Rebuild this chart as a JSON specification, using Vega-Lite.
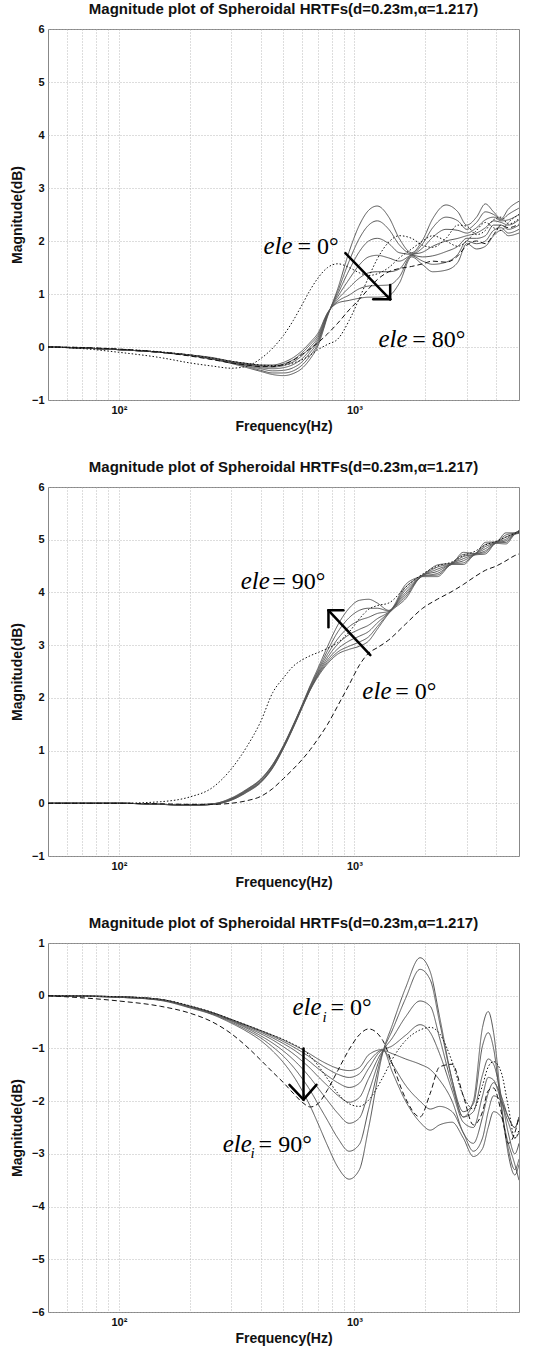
{
"$schema": "https://vega.github.io/schema/vega-lite/v6.json",
"background": "white",
"padding": {"left": 9, "top": 1, "right": 20, "bottom": 5},
"spacing": 25,
"config": {
  "view": {"stroke": "#888", "strokeWidth": 1},
  "font": "Liberation Sans",
  "title": {"font": "Liberation Sans", "fontSize": 15, "fontWeight": "bold", "color": "#111", "offset": 6},
  "axis": {"grid": true, "gridColor": "#aaa", "gridDash": [1, 2], "gridWidth": 0.8, "ticks": false, "domain": false,
    "labelFont": "Liberation Sans", "labelFontSize": 11, "labelFontWeight": "bold", "labelColor": "#111", "labelPadding": 4,
    "titleFont": "Liberation Sans", "titleFontSize": 14, "titleFontWeight": "bold", "titleColor": "#111"}
},
"datasets": {
"p1": [
{"c":"s0","f":50,"v":0},{"c":"s0","f":70,"v":-0.02},{"c":"s0","f":100,"v":-0.05},{"c":"s0","f":150,"v":-0.1},{"c":"s0","f":200,"v":-0.16},{"c":"s0","f":250,"v":-0.23},{"c":"s0","f":300,"v":-0.31},{"c":"s0","f":350,"v":-0.39},{"c":"s0","f":400,"v":-0.46},{"c":"s0","f":450,"v":-0.52},{"c":"s0","f":500,"v":-0.54},{"c":"s0","f":550,"v":-0.5},{"c":"s0","f":600,"v":-0.4},{"c":"s0","f":650,"v":-0.22},{"c":"s0","f":700,"v":0.02},{"c":"s0","f":770,"v":0.58},{"c":"s0","f":850,"v":1.1},{"c":"s0","f":950,"v":1.8},{"c":"s0","f":1050,"v":2.3},{"c":"s0","f":1150,"v":2.58},{"c":"s0","f":1250,"v":2.66},{"c":"s0","f":1400,"v":2.45},{"c":"s0","f":1550,"v":2.05},{"c":"s0","f":1750,"v":1.78},{"c":"s0","f":1950,"v":2.02},{"c":"s0","f":2150,"v":2.42},{"c":"s0","f":2450,"v":2.68},{"c":"s0","f":2750,"v":2.55},{"c":"s0","f":3000,"v":2.3},{"c":"s0","f":3300,"v":2.45},{"c":"s0","f":3600,"v":2.7},{"c":"s0","f":3900,"v":2.55},{"c":"s0","f":4200,"v":2.42},{"c":"s0","f":4500,"v":2.6},{"c":"s0","f":5000,"v":2.75},
{"c":"s1","f":50,"v":0},{"c":"s1","f":70,"v":-0.02},{"c":"s1","f":100,"v":-0.05},{"c":"s1","f":150,"v":-0.1},{"c":"s1","f":200,"v":-0.16},{"c":"s1","f":250,"v":-0.23},{"c":"s1","f":300,"v":-0.3},{"c":"s1","f":350,"v":-0.37},{"c":"s1","f":400,"v":-0.44},{"c":"s1","f":450,"v":-0.49},{"c":"s1","f":500,"v":-0.49},{"c":"s1","f":550,"v":-0.45},{"c":"s1","f":600,"v":-0.34},{"c":"s1","f":650,"v":-0.16},{"c":"s1","f":700,"v":0.06},{"c":"s1","f":770,"v":0.6},{"c":"s1","f":850,"v":1.05},{"c":"s1","f":950,"v":1.62},{"c":"s1","f":1050,"v":2.05},{"c":"s1","f":1150,"v":2.3},{"c":"s1","f":1250,"v":2.38},{"c":"s1","f":1400,"v":2.22},{"c":"s1","f":1550,"v":1.93},{"c":"s1","f":1750,"v":1.76},{"c":"s1","f":1950,"v":1.95},{"c":"s1","f":2150,"v":2.25},{"c":"s1","f":2450,"v":2.45},{"c":"s1","f":2750,"v":2.38},{"c":"s1","f":3000,"v":2.22},{"c":"s1","f":3300,"v":2.35},{"c":"s1","f":3600,"v":2.55},{"c":"s1","f":3900,"v":2.5},{"c":"s1","f":4200,"v":2.4},{"c":"s1","f":4500,"v":2.5},{"c":"s1","f":5000,"v":2.62},
{"c":"s2","f":50,"v":0},{"c":"s2","f":70,"v":-0.02},{"c":"s2","f":100,"v":-0.05},{"c":"s2","f":150,"v":-0.1},{"c":"s2","f":200,"v":-0.16},{"c":"s2","f":250,"v":-0.22},{"c":"s2","f":300,"v":-0.3},{"c":"s2","f":350,"v":-0.36},{"c":"s2","f":400,"v":-0.41},{"c":"s2","f":450,"v":-0.45},{"c":"s2","f":500,"v":-0.44},{"c":"s2","f":550,"v":-0.39},{"c":"s2","f":600,"v":-0.28},{"c":"s2","f":650,"v":-0.1},{"c":"s2","f":700,"v":0.1},{"c":"s2","f":770,"v":0.61},{"c":"s2","f":850,"v":1},{"c":"s2","f":950,"v":1.45},{"c":"s2","f":1050,"v":1.8},{"c":"s2","f":1150,"v":2},{"c":"s2","f":1250,"v":2.05},{"c":"s2","f":1400,"v":1.95},{"c":"s2","f":1550,"v":1.78},{"c":"s2","f":1750,"v":1.75},{"c":"s2","f":1950,"v":1.87},{"c":"s2","f":2150,"v":2.07},{"c":"s2","f":2450,"v":2.22},{"c":"s2","f":2750,"v":2.2},{"c":"s2","f":3000,"v":2.15},{"c":"s2","f":3300,"v":2.25},{"c":"s2","f":3600,"v":2.4},{"c":"s2","f":3900,"v":2.45},{"c":"s2","f":4200,"v":2.38},{"c":"s2","f":4500,"v":2.4},{"c":"s2","f":5000,"v":2.5},
{"c":"s3","f":50,"v":0},{"c":"s3","f":70,"v":-0.02},{"c":"s3","f":100,"v":-0.05},{"c":"s3","f":150,"v":-0.1},{"c":"s3","f":200,"v":-0.16},{"c":"s3","f":250,"v":-0.22},{"c":"s3","f":300,"v":-0.29},{"c":"s3","f":350,"v":-0.34},{"c":"s3","f":400,"v":-0.39},{"c":"s3","f":450,"v":-0.41},{"c":"s3","f":500,"v":-0.39},{"c":"s3","f":550,"v":-0.33},{"c":"s3","f":600,"v":-0.22},{"c":"s3","f":650,"v":-0.05},{"c":"s3","f":700,"v":0.14},{"c":"s3","f":770,"v":0.62},{"c":"s3","f":850,"v":0.95},{"c":"s3","f":950,"v":1.28},{"c":"s3","f":1050,"v":1.55},{"c":"s3","f":1150,"v":1.7},{"c":"s3","f":1250,"v":1.73},{"c":"s3","f":1400,"v":1.68},{"c":"s3","f":1550,"v":1.62},{"c":"s3","f":1750,"v":1.74},{"c":"s3","f":1950,"v":1.79},{"c":"s3","f":2150,"v":1.9},{"c":"s3","f":2450,"v":2},{"c":"s3","f":2750,"v":2.05},{"c":"s3","f":3000,"v":2.1},{"c":"s3","f":3300,"v":2.15},{"c":"s3","f":3600,"v":2.25},{"c":"s3","f":3900,"v":2.38},{"c":"s3","f":4200,"v":2.35},{"c":"s3","f":4500,"v":2.3},{"c":"s3","f":5000,"v":2.4},
{"c":"s4","f":50,"v":0},{"c":"s4","f":70,"v":-0.02},{"c":"s4","f":100,"v":-0.05},{"c":"s4","f":150,"v":-0.1},{"c":"s4","f":200,"v":-0.15},{"c":"s4","f":250,"v":-0.21},{"c":"s4","f":300,"v":-0.28},{"c":"s4","f":350,"v":-0.33},{"c":"s4","f":400,"v":-0.37},{"c":"s4","f":450,"v":-0.38},{"c":"s4","f":500,"v":-0.35},{"c":"s4","f":550,"v":-0.28},{"c":"s4","f":600,"v":-0.16},{"c":"s4","f":650,"v":0},{"c":"s4","f":700,"v":0.18},{"c":"s4","f":770,"v":0.63},{"c":"s4","f":850,"v":0.9},{"c":"s4","f":950,"v":1.12},{"c":"s4","f":1050,"v":1.3},{"c":"s4","f":1150,"v":1.4},{"c":"s4","f":1250,"v":1.42},{"c":"s4","f":1400,"v":1.42},{"c":"s4","f":1550,"v":1.47},{"c":"s4","f":1750,"v":1.73},{"c":"s4","f":1950,"v":1.7},{"c":"s4","f":2150,"v":1.72},{"c":"s4","f":2450,"v":1.8},{"c":"s4","f":2750,"v":1.9},{"c":"s4","f":3000,"v":2.05},{"c":"s4","f":3300,"v":2.05},{"c":"s4","f":3600,"v":2.1},{"c":"s4","f":3900,"v":2.3},{"c":"s4","f":4200,"v":2.3},{"c":"s4","f":4500,"v":2.22},{"c":"s4","f":5000,"v":2.3},
{"c":"s5","f":50,"v":0},{"c":"s5","f":70,"v":-0.02},{"c":"s5","f":100,"v":-0.05},{"c":"s5","f":150,"v":-0.1},{"c":"s5","f":200,"v":-0.15},{"c":"s5","f":250,"v":-0.21},{"c":"s5","f":300,"v":-0.27},{"c":"s5","f":350,"v":-0.32},{"c":"s5","f":400,"v":-0.35},{"c":"s5","f":450,"v":-0.36},{"c":"s5","f":500,"v":-0.32},{"c":"s5","f":550,"v":-0.24},{"c":"s5","f":600,"v":-0.11},{"c":"s5","f":650,"v":0.05},{"c":"s5","f":700,"v":0.22},{"c":"s5","f":770,"v":0.64},{"c":"s5","f":850,"v":0.86},{"c":"s5","f":950,"v":0.98},{"c":"s5","f":1050,"v":1.1},{"c":"s5","f":1150,"v":1.15},{"c":"s5","f":1250,"v":1.16},{"c":"s5","f":1400,"v":1.17},{"c":"s5","f":1550,"v":1.32},{"c":"s5","f":1750,"v":1.72},{"c":"s5","f":1950,"v":1.62},{"c":"s5","f":2150,"v":1.56},{"c":"s5","f":2450,"v":1.6},{"c":"s5","f":2750,"v":1.75},{"c":"s5","f":3000,"v":2},{"c":"s5","f":3300,"v":1.95},{"c":"s5","f":3600,"v":2},{"c":"s5","f":3900,"v":2.2},{"c":"s5","f":4200,"v":2.25},{"c":"s5","f":4500,"v":2.15},{"c":"s5","f":5000,"v":2.22},
{"c":"s6","f":50,"v":0},{"c":"s6","f":70,"v":-0.02},{"c":"s6","f":100,"v":-0.05},{"c":"s6","f":150,"v":-0.1},{"c":"s6","f":200,"v":-0.15},{"c":"s6","f":250,"v":-0.2},{"c":"s6","f":300,"v":-0.27},{"c":"s6","f":350,"v":-0.31},{"c":"s6","f":400,"v":-0.34},{"c":"s6","f":450,"v":-0.34},{"c":"s6","f":500,"v":-0.29},{"c":"s6","f":550,"v":-0.2},{"c":"s6","f":600,"v":-0.07},{"c":"s6","f":650,"v":0.09},{"c":"s6","f":700,"v":0.26},{"c":"s6","f":770,"v":0.65},{"c":"s6","f":850,"v":0.83},{"c":"s6","f":950,"v":0.88},{"c":"s6","f":1050,"v":0.92},{"c":"s6","f":1150,"v":0.94},{"c":"s6","f":1250,"v":0.94},{"c":"s6","f":1400,"v":0.97},{"c":"s6","f":1550,"v":1.2},{"c":"s6","f":1750,"v":1.7},{"c":"s6","f":1950,"v":1.55},{"c":"s6","f":2150,"v":1.42},{"c":"s6","f":2450,"v":1.45},{"c":"s6","f":2750,"v":1.6},{"c":"s6","f":3000,"v":1.95},{"c":"s6","f":3300,"v":1.85},{"c":"s6","f":3600,"v":1.9},{"c":"s6","f":3900,"v":2.1},{"c":"s6","f":4200,"v":2.2},{"c":"s6","f":4500,"v":2.1},{"c":"s6","f":5000,"v":2.15},
{"c":"d1","f":50,"v":0},{"c":"d1","f":70,"v":-0.03},{"c":"d1","f":100,"v":-0.1},{"c":"d1","f":150,"v":-0.2},{"c":"d1","f":200,"v":-0.3},{"c":"d1","f":250,"v":-0.36},{"c":"d1","f":300,"v":-0.4},{"c":"d1","f":350,"v":-0.36},{"c":"d1","f":400,"v":-0.22},{"c":"d1","f":450,"v":-0.02},{"c":"d1","f":500,"v":0.22},{"c":"d1","f":550,"v":0.5},{"c":"d1","f":600,"v":0.8},{"c":"d1","f":650,"v":1.08},{"c":"d1","f":700,"v":1.3},{"c":"d1","f":770,"v":1.5},{"c":"d1","f":850,"v":1.57},{"c":"d1","f":950,"v":1.5},{"c":"d1","f":1050,"v":1.4},{"c":"d1","f":1150,"v":1.35},{"c":"d1","f":1250,"v":1.38},{"c":"d1","f":1400,"v":1.5},{"c":"d1","f":1550,"v":1.68},{"c":"d1","f":1750,"v":1.85},{"c":"d1","f":1950,"v":2},{"c":"d1","f":2150,"v":2.1},{"c":"d1","f":2450,"v":2},{"c":"d1","f":2750,"v":1.9},{"c":"d1","f":3000,"v":2},{"c":"d1","f":3300,"v":2.2},{"c":"d1","f":3600,"v":2.35},{"c":"d1","f":3900,"v":2.25},{"c":"d1","f":4200,"v":2.2},{"c":"d1","f":4500,"v":2.35},{"c":"d1","f":5000,"v":2.5},
{"c":"d2","f":50,"v":0},{"c":"d2","f":70,"v":-0.01},{"c":"d2","f":100,"v":-0.04},{"c":"d2","f":150,"v":-0.09},{"c":"d2","f":200,"v":-0.15},{"c":"d2","f":250,"v":-0.21},{"c":"d2","f":300,"v":-0.27},{"c":"d2","f":350,"v":-0.31},{"c":"d2","f":400,"v":-0.34},{"c":"d2","f":450,"v":-0.35},{"c":"d2","f":500,"v":-0.34},{"c":"d2","f":550,"v":-0.3},{"c":"d2","f":600,"v":-0.24},{"c":"d2","f":650,"v":-0.15},{"c":"d2","f":700,"v":-0.05},{"c":"d2","f":770,"v":0.05},{"c":"d2","f":850,"v":0.15},{"c":"d2","f":950,"v":0.5},{"c":"d2","f":1050,"v":0.92},{"c":"d2","f":1150,"v":1.32},{"c":"d2","f":1250,"v":1.66},{"c":"d2","f":1400,"v":1.98},{"c":"d2","f":1550,"v":2.1},{"c":"d2","f":1750,"v":2.05},{"c":"d2","f":1950,"v":1.92},{"c":"d2","f":2150,"v":1.88},{"c":"d2","f":2450,"v":2.05},{"c":"d2","f":2750,"v":2.3},{"c":"d2","f":3000,"v":2.28},{"c":"d2","f":3300,"v":2.12},{"c":"d2","f":3600,"v":2.2},{"c":"d2","f":3900,"v":2.4},{"c":"d2","f":4200,"v":2.45},{"c":"d2","f":4500,"v":2.32},{"c":"d2","f":5000,"v":2.42},
{"c":"m","f":50,"v":0},{"c":"m","f":70,"v":-0.01},{"c":"m","f":100,"v":-0.04},{"c":"m","f":150,"v":-0.1},{"c":"m","f":200,"v":-0.17},{"c":"m","f":250,"v":-0.24},{"c":"m","f":300,"v":-0.3},{"c":"m","f":350,"v":-0.34},{"c":"m","f":400,"v":-0.37},{"c":"m","f":450,"v":-0.37},{"c":"m","f":500,"v":-0.33},{"c":"m","f":550,"v":-0.25},{"c":"m","f":600,"v":-0.14},{"c":"m","f":650,"v":-0.03},{"c":"m","f":700,"v":0.08},{"c":"m","f":770,"v":0.25},{"c":"m","f":850,"v":0.45},{"c":"m","f":950,"v":0.7},{"c":"m","f":1050,"v":0.9},{"c":"m","f":1150,"v":1.1},{"c":"m","f":1250,"v":1.27},{"c":"m","f":1400,"v":1.42},{"c":"m","f":1550,"v":1.48},{"c":"m","f":1750,"v":1.52},{"c":"m","f":1950,"v":1.57},{"c":"m","f":2150,"v":1.62},{"c":"m","f":2450,"v":1.6},{"c":"m","f":2750,"v":1.72},{"c":"m","f":3000,"v":1.92},{"c":"m","f":3300,"v":2},{"c":"m","f":3600,"v":1.95},{"c":"m","f":3900,"v":2.12},{"c":"m","f":4200,"v":2.3},{"c":"m","f":4500,"v":2.25},{"c":"m","f":5000,"v":2.32}
],
"p2": [
{"c":"s0","f":50,"v":0},{"c":"s0","f":100,"v":0},{"c":"s0","f":150,"v":-0.02},{"c":"s0","f":200,"v":-0.03},{"c":"s0","f":250,"v":-0.01},{"c":"s0","f":300,"v":0.1},{"c":"s0","f":350,"v":0.27},{"c":"s0","f":400,"v":0.46},{"c":"s0","f":450,"v":0.74},{"c":"s0","f":500,"v":1.1},{"c":"s0","f":550,"v":1.49},{"c":"s0","f":600,"v":1.87},{"c":"s0","f":650,"v":2.24},{"c":"s0","f":700,"v":2.56},{"c":"s0","f":770,"v":2.98},{"c":"s0","f":850,"v":3.38},{"c":"s0","f":950,"v":3.7},{"c":"s0","f":1050,"v":3.85},{"c":"s0","f":1150,"v":3.87},{"c":"s0","f":1250,"v":3.8},{"c":"s0","f":1400,"v":3.66},{"c":"s0","f":1650,"v":4.15},{"c":"s0","f":1950,"v":4.33},{"c":"s0","f":2250,"v":4.52},{"c":"s0","f":2600,"v":4.56},{"c":"s0","f":2900,"v":4.76},{"c":"s0","f":3250,"v":4.74},{"c":"s0","f":3600,"v":4.95},{"c":"s0","f":4000,"v":4.96},{"c":"s0","f":4400,"v":5.13},{"c":"s0","f":4800,"v":5.13},{"c":"s0","f":5000,"v":5.18},
{"c":"s1","f":50,"v":0},{"c":"s1","f":100,"v":0},{"c":"s1","f":150,"v":-0.02},{"c":"s1","f":200,"v":-0.03},{"c":"s1","f":250,"v":-0.01},{"c":"s1","f":300,"v":0.09},{"c":"s1","f":350,"v":0.26},{"c":"s1","f":400,"v":0.45},{"c":"s1","f":450,"v":0.73},{"c":"s1","f":500,"v":1.09},{"c":"s1","f":550,"v":1.48},{"c":"s1","f":600,"v":1.86},{"c":"s1","f":650,"v":2.22},{"c":"s1","f":700,"v":2.52},{"c":"s1","f":770,"v":2.9},{"c":"s1","f":850,"v":3.25},{"c":"s1","f":950,"v":3.52},{"c":"s1","f":1050,"v":3.66},{"c":"s1","f":1150,"v":3.7},{"c":"s1","f":1250,"v":3.7},{"c":"s1","f":1400,"v":3.65},{"c":"s1","f":1650,"v":4.1},{"c":"s1","f":1950,"v":4.33},{"c":"s1","f":2250,"v":4.48},{"c":"s1","f":2600,"v":4.56},{"c":"s1","f":2900,"v":4.72},{"c":"s1","f":3250,"v":4.74},{"c":"s1","f":3600,"v":4.91},{"c":"s1","f":4000,"v":4.96},{"c":"s1","f":4400,"v":5.09},{"c":"s1","f":4800,"v":5.13},{"c":"s1","f":5000,"v":5.17},
{"c":"s2","f":50,"v":0},{"c":"s2","f":100,"v":0},{"c":"s2","f":150,"v":-0.02},{"c":"s2","f":200,"v":-0.03},{"c":"s2","f":250,"v":-0.02},{"c":"s2","f":300,"v":0.08},{"c":"s2","f":350,"v":0.25},{"c":"s2","f":400,"v":0.44},{"c":"s2","f":450,"v":0.72},{"c":"s2","f":500,"v":1.08},{"c":"s2","f":550,"v":1.47},{"c":"s2","f":600,"v":1.85},{"c":"s2","f":650,"v":2.2},{"c":"s2","f":700,"v":2.49},{"c":"s2","f":770,"v":2.83},{"c":"s2","f":850,"v":3.12},{"c":"s2","f":950,"v":3.35},{"c":"s2","f":1050,"v":3.47},{"c":"s2","f":1150,"v":3.53},{"c":"s2","f":1250,"v":3.6},{"c":"s2","f":1400,"v":3.64},{"c":"s2","f":1650,"v":4.05},{"c":"s2","f":1950,"v":4.32},{"c":"s2","f":2250,"v":4.44},{"c":"s2","f":2600,"v":4.55},{"c":"s2","f":2900,"v":4.68},{"c":"s2","f":3250,"v":4.73},{"c":"s2","f":3600,"v":4.87},{"c":"s2","f":4000,"v":4.95},{"c":"s2","f":4400,"v":5.05},{"c":"s2","f":4800,"v":5.12},{"c":"s2","f":5000,"v":5.16},
{"c":"s3","f":50,"v":0},{"c":"s3","f":100,"v":0},{"c":"s3","f":150,"v":-0.02},{"c":"s3","f":200,"v":-0.03},{"c":"s3","f":250,"v":-0.02},{"c":"s3","f":300,"v":0.08},{"c":"s3","f":350,"v":0.24},{"c":"s3","f":400,"v":0.42},{"c":"s3","f":450,"v":0.7},{"c":"s3","f":500,"v":1.07},{"c":"s3","f":550,"v":1.46},{"c":"s3","f":600,"v":1.84},{"c":"s3","f":650,"v":2.18},{"c":"s3","f":700,"v":2.46},{"c":"s3","f":770,"v":2.77},{"c":"s3","f":850,"v":3.02},{"c":"s3","f":950,"v":3.2},{"c":"s3","f":1050,"v":3.3},{"c":"s3","f":1150,"v":3.38},{"c":"s3","f":1250,"v":3.5},{"c":"s3","f":1400,"v":3.63},{"c":"s3","f":1650,"v":4},{"c":"s3","f":1950,"v":4.32},{"c":"s3","f":2250,"v":4.4},{"c":"s3","f":2600,"v":4.55},{"c":"s3","f":2900,"v":4.64},{"c":"s3","f":3250,"v":4.73},{"c":"s3","f":3600,"v":4.83},{"c":"s3","f":4000,"v":4.95},{"c":"s3","f":4400,"v":5.01},{"c":"s3","f":4800,"v":5.12},{"c":"s3","f":5000,"v":5.15},
{"c":"s4","f":50,"v":0},{"c":"s4","f":100,"v":0},{"c":"s4","f":150,"v":-0.02},{"c":"s4","f":200,"v":-0.04},{"c":"s4","f":250,"v":-0.02},{"c":"s4","f":300,"v":0.07},{"c":"s4","f":350,"v":0.23},{"c":"s4","f":400,"v":0.41},{"c":"s4","f":450,"v":0.69},{"c":"s4","f":500,"v":1.06},{"c":"s4","f":550,"v":1.45},{"c":"s4","f":600,"v":1.83},{"c":"s4","f":650,"v":2.17},{"c":"s4","f":700,"v":2.44},{"c":"s4","f":770,"v":2.72},{"c":"s4","f":850,"v":2.93},{"c":"s4","f":950,"v":3.08},{"c":"s4","f":1050,"v":3.17},{"c":"s4","f":1150,"v":3.26},{"c":"s4","f":1250,"v":3.42},{"c":"s4","f":1400,"v":3.62},{"c":"s4","f":1650,"v":3.96},{"c":"s4","f":1950,"v":4.31},{"c":"s4","f":2250,"v":4.36},{"c":"s4","f":2600,"v":4.54},{"c":"s4","f":2900,"v":4.6},{"c":"s4","f":3250,"v":4.72},{"c":"s4","f":3600,"v":4.79},{"c":"s4","f":4000,"v":4.94},{"c":"s4","f":4400,"v":4.98},{"c":"s4","f":4800,"v":5.11},{"c":"s4","f":5000,"v":5.14},
{"c":"s5","f":50,"v":0},{"c":"s5","f":100,"v":0},{"c":"s5","f":150,"v":-0.02},{"c":"s5","f":200,"v":-0.04},{"c":"s5","f":250,"v":-0.02},{"c":"s5","f":300,"v":0.06},{"c":"s5","f":350,"v":0.22},{"c":"s5","f":400,"v":0.4},{"c":"s5","f":450,"v":0.68},{"c":"s5","f":500,"v":1.05},{"c":"s5","f":550,"v":1.44},{"c":"s5","f":600,"v":1.82},{"c":"s5","f":650,"v":2.16},{"c":"s5","f":700,"v":2.42},{"c":"s5","f":770,"v":2.68},{"c":"s5","f":850,"v":2.87},{"c":"s5","f":950,"v":2.98},{"c":"s5","f":1050,"v":3.06},{"c":"s5","f":1150,"v":3.16},{"c":"s5","f":1250,"v":3.35},{"c":"s5","f":1400,"v":3.61},{"c":"s5","f":1650,"v":3.92},{"c":"s5","f":1950,"v":4.31},{"c":"s5","f":2250,"v":4.33},{"c":"s5","f":2600,"v":4.54},{"c":"s5","f":2900,"v":4.56},{"c":"s5","f":3250,"v":4.72},{"c":"s5","f":3600,"v":4.76},{"c":"s5","f":4000,"v":4.94},{"c":"s5","f":4400,"v":4.95},{"c":"s5","f":4800,"v":5.11},{"c":"s5","f":5000,"v":5.13},
{"c":"s6","f":50,"v":0},{"c":"s6","f":100,"v":0},{"c":"s6","f":150,"v":-0.02},{"c":"s6","f":200,"v":-0.04},{"c":"s6","f":250,"v":-0.02},{"c":"s6","f":300,"v":0.06},{"c":"s6","f":350,"v":0.21},{"c":"s6","f":400,"v":0.39},{"c":"s6","f":450,"v":0.67},{"c":"s6","f":500,"v":1.04},{"c":"s6","f":550,"v":1.43},{"c":"s6","f":600,"v":1.81},{"c":"s6","f":650,"v":2.15},{"c":"s6","f":700,"v":2.4},{"c":"s6","f":770,"v":2.65},{"c":"s6","f":850,"v":2.83},{"c":"s6","f":950,"v":2.92},{"c":"s6","f":1050,"v":2.98},{"c":"s6","f":1150,"v":3.08},{"c":"s6","f":1250,"v":3.3},{"c":"s6","f":1400,"v":3.6},{"c":"s6","f":1650,"v":3.88},{"c":"s6","f":1950,"v":4.3},{"c":"s6","f":2250,"v":4.3},{"c":"s6","f":2600,"v":4.53},{"c":"s6","f":2900,"v":4.53},{"c":"s6","f":3250,"v":4.71},{"c":"s6","f":3600,"v":4.73},{"c":"s6","f":4000,"v":4.93},{"c":"s6","f":4400,"v":4.92},{"c":"s6","f":4800,"v":5.1},{"c":"s6","f":5000,"v":5.12},
{"c":"d1","f":50,"v":0},{"c":"d1","f":100,"v":0},{"c":"d1","f":150,"v":0.03},{"c":"d1","f":200,"v":0.12},{"c":"d1","f":250,"v":0.3},{"c":"d1","f":300,"v":0.65},{"c":"d1","f":350,"v":1.08},{"c":"d1","f":400,"v":1.55},{"c":"d1","f":450,"v":2.1},{"c":"d1","f":500,"v":2.38},{"c":"d1","f":550,"v":2.6},{"c":"d1","f":600,"v":2.72},{"c":"d1","f":650,"v":2.8},{"c":"d1","f":700,"v":2.86},{"c":"d1","f":770,"v":2.94},{"c":"d1","f":850,"v":3.05},{"c":"d1","f":950,"v":3.25},{"c":"d1","f":1050,"v":3.5},{"c":"d1","f":1150,"v":3.68},{"c":"d1","f":1250,"v":3.75},{"c":"d1","f":1400,"v":3.8},{"c":"d1","f":1650,"v":4.1},{"c":"d1","f":1950,"v":4.35},{"c":"d1","f":2250,"v":4.5},{"c":"d1","f":2600,"v":4.58},{"c":"d1","f":2900,"v":4.7},{"c":"d1","f":3250,"v":4.78},{"c":"d1","f":3600,"v":4.9},{"c":"d1","f":4000,"v":4.97},{"c":"d1","f":4400,"v":5.05},{"c":"d1","f":4800,"v":5.12},{"c":"d1","f":5000,"v":5.15},
{"c":"m","f":50,"v":0},{"c":"m","f":100,"v":0},{"c":"m","f":150,"v":-0.01},{"c":"m","f":200,"v":-0.02},{"c":"m","f":250,"v":-0.02},{"c":"m","f":300,"v":0},{"c":"m","f":350,"v":0.05},{"c":"m","f":400,"v":0.13},{"c":"m","f":450,"v":0.28},{"c":"m","f":500,"v":0.47},{"c":"m","f":550,"v":0.65},{"c":"m","f":600,"v":0.83},{"c":"m","f":650,"v":1.02},{"c":"m","f":700,"v":1.22},{"c":"m","f":770,"v":1.5},{"c":"m","f":850,"v":1.85},{"c":"m","f":950,"v":2.25},{"c":"m","f":1050,"v":2.62},{"c":"m","f":1150,"v":2.85},{"c":"m","f":1250,"v":2.95},{"c":"m","f":1400,"v":3.1},{"c":"m","f":1650,"v":3.4},{"c":"m","f":1950,"v":3.7},{"c":"m","f":2250,"v":3.87},{"c":"m","f":2600,"v":4.02},{"c":"m","f":2900,"v":4.15},{"c":"m","f":3250,"v":4.3},{"c":"m","f":3600,"v":4.42},{"c":"m","f":4000,"v":4.5},{"c":"m","f":4400,"v":4.6},{"c":"m","f":4800,"v":4.7},{"c":"m","f":5000,"v":4.73}
],
"p3": [
{"c":"s0","f":50,"v":0},{"c":"s0","f":100,"v":-0.02},{"c":"s0","f":150,"v":-0.07},{"c":"s0","f":200,"v":-0.2},{"c":"s0","f":250,"v":-0.32},{"c":"s0","f":300,"v":-0.45},{"c":"s0","f":350,"v":-0.56},{"c":"s0","f":400,"v":-0.66},{"c":"s0","f":450,"v":-0.75},{"c":"s0","f":500,"v":-0.84},{"c":"s0","f":550,"v":-0.93},{"c":"s0","f":600,"v":-1.02},{"c":"s0","f":650,"v":-1.11},{"c":"s0","f":700,"v":-1.2},{"c":"s0","f":770,"v":-1.3},{"c":"s0","f":850,"v":-1.38},{"c":"s0","f":950,"v":-1.42},{"c":"s0","f":1050,"v":-1.36},{"c":"s0","f":1150,"v":-1.12},{"c":"s0","f":1320,"v":-1.02},{"c":"s0","f":1450,"v":-1.45},{"c":"s0","f":1650,"v":-2},{"c":"s0","f":1900,"v":-2.4},{"c":"s0","f":2100,"v":-2.55},{"c":"s0","f":2300,"v":-2.45},{"c":"s0","f":2600,"v":-2.4},{"c":"s0","f":2900,"v":-2.7},{"c":"s0","f":3200,"v":-3.05},{"c":"s0","f":3500,"v":-2.9},{"c":"s0","f":3700,"v":-2.5},{"c":"s0","f":3900,"v":-2.2},{"c":"s0","f":4200,"v":-2.3},{"c":"s0","f":4500,"v":-2.8},{"c":"s0","f":4800,"v":-3.2},{"c":"s0","f":5000,"v":-3.5},
{"c":"s1","f":50,"v":0},{"c":"s1","f":100,"v":-0.02},{"c":"s1","f":150,"v":-0.07},{"c":"s1","f":200,"v":-0.2},{"c":"s1","f":250,"v":-0.32},{"c":"s1","f":300,"v":-0.45},{"c":"s1","f":350,"v":-0.57},{"c":"s1","f":400,"v":-0.67},{"c":"s1","f":450,"v":-0.77},{"c":"s1","f":500,"v":-0.87},{"c":"s1","f":550,"v":-0.97},{"c":"s1","f":600,"v":-1.07},{"c":"s1","f":650,"v":-1.17},{"c":"s1","f":700,"v":-1.27},{"c":"s1","f":770,"v":-1.39},{"c":"s1","f":850,"v":-1.49},{"c":"s1","f":950,"v":-1.55},{"c":"s1","f":1050,"v":-1.48},{"c":"s1","f":1150,"v":-1.25},{"c":"s1","f":1320,"v":-1.03},{"c":"s1","f":1450,"v":-1.3},{"c":"s1","f":1650,"v":-1.7},{"c":"s1","f":1900,"v":-2},{"c":"s1","f":2100,"v":-2.15},{"c":"s1","f":2300,"v":-2.1},{"c":"s1","f":2600,"v":-2.2},{"c":"s1","f":2900,"v":-2.6},{"c":"s1","f":3200,"v":-2.95},{"c":"s1","f":3500,"v":-2.7},{"c":"s1","f":3700,"v":-2.2},{"c":"s1","f":3900,"v":-1.9},{"c":"s1","f":4200,"v":-2},{"c":"s1","f":4500,"v":-2.3},{"c":"s1","f":4800,"v":-2.5},{"c":"s1","f":5000,"v":-2.3},
{"c":"s2","f":50,"v":0},{"c":"s2","f":100,"v":-0.02},{"c":"s2","f":150,"v":-0.07},{"c":"s2","f":200,"v":-0.2},{"c":"s2","f":250,"v":-0.33},{"c":"s2","f":300,"v":-0.46},{"c":"s2","f":350,"v":-0.58},{"c":"s2","f":400,"v":-0.69},{"c":"s2","f":450,"v":-0.8},{"c":"s2","f":500,"v":-0.91},{"c":"s2","f":550,"v":-1.02},{"c":"s2","f":600,"v":-1.14},{"c":"s2","f":650,"v":-1.26},{"c":"s2","f":700,"v":-1.38},{"c":"s2","f":770,"v":-1.52},{"c":"s2","f":850,"v":-1.65},{"c":"s2","f":950,"v":-1.74},{"c":"s2","f":1050,"v":-1.66},{"c":"s2","f":1150,"v":-1.38},{"c":"s2","f":1320,"v":-1.04},{"c":"s2","f":1450,"v":-1.1},{"c":"s2","f":1650,"v":-1.2},{"c":"s2","f":1900,"v":-1.3},{"c":"s2","f":2100,"v":-1.4},{"c":"s2","f":2300,"v":-1.6},{"c":"s2","f":2600,"v":-2},{"c":"s2","f":2900,"v":-2.6},{"c":"s2","f":3200,"v":-2.8},{"c":"s2","f":3500,"v":-2.3},{"c":"s2","f":3700,"v":-1.85},{"c":"s2","f":3900,"v":-1.65},{"c":"s2","f":4200,"v":-1.9},{"c":"s2","f":4500,"v":-2.3},{"c":"s2","f":4800,"v":-2.5},{"c":"s2","f":5000,"v":-2.3},
{"c":"s3","f":50,"v":0},{"c":"s3","f":100,"v":-0.02},{"c":"s3","f":150,"v":-0.08},{"c":"s3","f":200,"v":-0.21},{"c":"s3","f":250,"v":-0.33},{"c":"s3","f":300,"v":-0.47},{"c":"s3","f":350,"v":-0.6},{"c":"s3","f":400,"v":-0.72},{"c":"s3","f":450,"v":-0.84},{"c":"s3","f":500,"v":-0.97},{"c":"s3","f":550,"v":-1.1},{"c":"s3","f":600,"v":-1.24},{"c":"s3","f":650,"v":-1.38},{"c":"s3","f":700,"v":-1.53},{"c":"s3","f":770,"v":-1.71},{"c":"s3","f":850,"v":-1.89},{"c":"s3","f":950,"v":-2.02},{"c":"s3","f":1050,"v":-1.93},{"c":"s3","f":1150,"v":-1.57},{"c":"s3","f":1320,"v":-1.05},{"c":"s3","f":1450,"v":-0.95},{"c":"s3","f":1650,"v":-0.75},{"c":"s3","f":1900,"v":-0.55},{"c":"s3","f":2100,"v":-0.7},{"c":"s3","f":2300,"v":-1.1},{"c":"s3","f":2600,"v":-1.8},{"c":"s3","f":2900,"v":-2.4},{"c":"s3","f":3200,"v":-2.5},{"c":"s3","f":3500,"v":-1.9},{"c":"s3","f":3700,"v":-1.55},{"c":"s3","f":3900,"v":-1.6},{"c":"s3","f":4200,"v":-2},{"c":"s3","f":4500,"v":-2.4},{"c":"s3","f":4800,"v":-2.7},{"c":"s3","f":5000,"v":-2.6},
{"c":"s4","f":50,"v":0},{"c":"s4","f":100,"v":-0.03},{"c":"s4","f":150,"v":-0.08},{"c":"s4","f":200,"v":-0.21},{"c":"s4","f":250,"v":-0.34},{"c":"s4","f":300,"v":-0.48},{"c":"s4","f":350,"v":-0.62},{"c":"s4","f":400,"v":-0.76},{"c":"s4","f":450,"v":-0.9},{"c":"s4","f":500,"v":-1.05},{"c":"s4","f":550,"v":-1.21},{"c":"s4","f":600,"v":-1.38},{"c":"s4","f":650,"v":-1.56},{"c":"s4","f":700,"v":-1.75},{"c":"s4","f":770,"v":-1.99},{"c":"s4","f":850,"v":-2.23},{"c":"s4","f":950,"v":-2.42},{"c":"s4","f":1050,"v":-2.32},{"c":"s4","f":1150,"v":-1.83},{"c":"s4","f":1320,"v":-1.06},{"c":"s4","f":1450,"v":-0.8},{"c":"s4","f":1650,"v":-0.4},{"c":"s4","f":1900,"v":-0.1},{"c":"s4","f":2100,"v":-0.2},{"c":"s4","f":2300,"v":-0.8},{"c":"s4","f":2600,"v":-1.7},{"c":"s4","f":2900,"v":-2.3},{"c":"s4","f":3200,"v":-2.2},{"c":"s4","f":3500,"v":-1.5},{"c":"s4","f":3700,"v":-1.2},{"c":"s4","f":3900,"v":-1.3},{"c":"s4","f":4200,"v":-1.9},{"c":"s4","f":4500,"v":-2.6},{"c":"s4","f":4800,"v":-3},{"c":"s4","f":5000,"v":-2.8},
{"c":"s5","f":50,"v":0},{"c":"s5","f":100,"v":-0.03},{"c":"s5","f":150,"v":-0.08},{"c":"s5","f":200,"v":-0.22},{"c":"s5","f":250,"v":-0.35},{"c":"s5","f":300,"v":-0.5},{"c":"s5","f":350,"v":-0.65},{"c":"s5","f":400,"v":-0.8},{"c":"s5","f":450,"v":-0.97},{"c":"s5","f":500,"v":-1.15},{"c":"s5","f":550,"v":-1.35},{"c":"s5","f":600,"v":-1.57},{"c":"s5","f":650,"v":-1.8},{"c":"s5","f":700,"v":-2.05},{"c":"s5","f":770,"v":-2.37},{"c":"s5","f":850,"v":-2.7},{"c":"s5","f":950,"v":-2.95},{"c":"s5","f":1050,"v":-2.82},{"c":"s5","f":1150,"v":-2.15},{"c":"s5","f":1320,"v":-1.07},{"c":"s5","f":1450,"v":-0.65},{"c":"s5","f":1650,"v":-0.05},{"c":"s5","f":1900,"v":0.5},{"c":"s5","f":2100,"v":0.3},{"c":"s5","f":2300,"v":-0.5},{"c":"s5","f":2600,"v":-1.6},{"c":"s5","f":2900,"v":-2.2},{"c":"s5","f":3200,"v":-2.05},{"c":"s5","f":3500,"v":-0.95},{"c":"s5","f":3700,"v":-0.7},{"c":"s5","f":3900,"v":-1},{"c":"s5","f":4200,"v":-2.1},{"c":"s5","f":4500,"v":-2.9},{"c":"s5","f":4800,"v":-3.3},{"c":"s5","f":5000,"v":-3.1},
{"c":"s6","f":50,"v":0},{"c":"s6","f":100,"v":-0.03},{"c":"s6","f":150,"v":-0.09},{"c":"s6","f":200,"v":-0.23},{"c":"s6","f":250,"v":-0.36},{"c":"s6","f":300,"v":-0.52},{"c":"s6","f":350,"v":-0.68},{"c":"s6","f":400,"v":-0.85},{"c":"s6","f":450,"v":-1.05},{"c":"s6","f":500,"v":-1.27},{"c":"s6","f":550,"v":-1.52},{"c":"s6","f":600,"v":-1.8},{"c":"s6","f":650,"v":-2.1},{"c":"s6","f":700,"v":-2.42},{"c":"s6","f":770,"v":-2.85},{"c":"s6","f":850,"v":-3.25},{"c":"s6","f":950,"v":-3.48},{"c":"s6","f":1050,"v":-3.3},{"c":"s6","f":1150,"v":-2.5},{"c":"s6","f":1320,"v":-1.08},{"c":"s6","f":1450,"v":-0.55},{"c":"s6","f":1650,"v":0.15},{"c":"s6","f":1900,"v":0.72},{"c":"s6","f":2100,"v":0.45},{"c":"s6","f":2300,"v":-0.4},{"c":"s6","f":2600,"v":-1.6},{"c":"s6","f":2900,"v":-2.3},{"c":"s6","f":3200,"v":-2},{"c":"s6","f":3500,"v":-0.6},{"c":"s6","f":3700,"v":-0.3},{"c":"s6","f":3900,"v":-0.7},{"c":"s6","f":4200,"v":-2},{"c":"s6","f":4500,"v":-3},{"c":"s6","f":4800,"v":-3.4},{"c":"s6","f":5000,"v":-3.2},
{"c":"d1","f":50,"v":0},{"c":"d1","f":100,"v":-0.02},{"c":"d1","f":150,"v":-0.07},{"c":"d1","f":200,"v":-0.19},{"c":"d1","f":250,"v":-0.32},{"c":"d1","f":300,"v":-0.45},{"c":"d1","f":350,"v":-0.56},{"c":"d1","f":400,"v":-0.66},{"c":"d1","f":450,"v":-0.75},{"c":"d1","f":500,"v":-0.83},{"c":"d1","f":550,"v":-0.92},{"c":"d1","f":600,"v":-1.01},{"c":"d1","f":650,"v":-1.15},{"c":"d1","f":700,"v":-1.32},{"c":"d1","f":770,"v":-1.58},{"c":"d1","f":850,"v":-1.85},{"c":"d1","f":950,"v":-2.05},{"c":"d1","f":1050,"v":-2.1},{"c":"d1","f":1150,"v":-1.98},{"c":"d1","f":1320,"v":-1.55},{"c":"d1","f":1450,"v":-1.2},{"c":"d1","f":1650,"v":-0.85},{"c":"d1","f":1900,"v":-0.65},{"c":"d1","f":2100,"v":-0.6},{"c":"d1","f":2300,"v":-0.72},{"c":"d1","f":2600,"v":-1.25},{"c":"d1","f":2900,"v":-1.9},{"c":"d1","f":3200,"v":-2.15},{"c":"d1","f":3500,"v":-1.7},{"c":"d1","f":3700,"v":-1.35},{"c":"d1","f":3900,"v":-1.25},{"c":"d1","f":4200,"v":-1.45},{"c":"d1","f":4500,"v":-2.1},{"c":"d1","f":4800,"v":-2.7},{"c":"d1","f":5000,"v":-2.55},
{"c":"m","f":50,"v":0},{"c":"m","f":100,"v":-0.1},{"c":"m","f":150,"v":-0.2},{"c":"m","f":200,"v":-0.33},{"c":"m","f":250,"v":-0.5},{"c":"m","f":300,"v":-0.72},{"c":"m","f":350,"v":-0.97},{"c":"m","f":400,"v":-1.22},{"c":"m","f":450,"v":-1.45},{"c":"m","f":500,"v":-1.65},{"c":"m","f":550,"v":-1.85},{"c":"m","f":600,"v":-2.02},{"c":"m","f":650,"v":-2.11},{"c":"m","f":700,"v":-2.05},{"c":"m","f":770,"v":-1.78},{"c":"m","f":850,"v":-1.42},{"c":"m","f":950,"v":-1.02},{"c":"m","f":1050,"v":-0.74},{"c":"m","f":1150,"v":-0.63},{"c":"m","f":1320,"v":-0.85},{"c":"m","f":1450,"v":-1.3},{"c":"m","f":1650,"v":-1.95},{"c":"m","f":1900,"v":-2.3},{"c":"m","f":2100,"v":-1.85},{"c":"m","f":2300,"v":-1.35},{"c":"m","f":2600,"v":-1.3},{"c":"m","f":2900,"v":-1.9},{"c":"m","f":3200,"v":-2.45},{"c":"m","f":3500,"v":-2.2},{"c":"m","f":3700,"v":-1.8},{"c":"m","f":3900,"v":-1.75},{"c":"m","f":4200,"v":-2.2},{"c":"m","f":4500,"v":-2.8},{"c":"m","f":4800,"v":-2.6},{"c":"m","f":5000,"v":-2.3}
],
"r1": [{"f":916,"v":1.77,"f2":1419,"v2":0.9},{"f":1202,"v":0.9,"f2":1419,"v2":0.9},{"f":1419,"v":1.17,"f2":1419,"v2":0.9}],
"r2": [{"f":1169,"v":2.81,"f2":776,"v2":3.66},{"f":776,"v":3.66,"f2":898,"v2":3.66},{"f":776,"v":3.66,"f2":776,"v2":3.34}],
"r3": [{"f":608,"v":-1.0,"f2":608,"v2":-1.97},{"f":530,"v":-1.69,"f2":608,"v2":-1.97},{"f":690,"v":-1.69,"f2":608,"v2":-1.97}],
"t1": [{"k":"it","f":411,"v":1.76,"label":"ele"},{"k":"up","f":573,"v":1.76,"label":"= 0°"},{"k":"it","f":1265,"v":0.0,"label":"ele"},{"k":"up","f":1762,"v":0.0,"label":"= 80°"}],
"t2": [{"k":"it","f":329,"v":4.06,"label":"ele"},{"k":"up","f":448,"v":4.06,"label":"= 90°"},{"k":"it","f":1081,"v":1.97,"label":"ele"},{"k":"up","f":1492,"v":1.97,"label":"= 0°"}],
"t3": [{"k":"it","f":546,"v":-0.375,"label":"ele"},{"k":"sub","f":732,"v":-0.5,"label":"i"},{"k":"up","f":791,"v":-0.375,"label":"= 0°"},{"k":"it","f":276,"v":-2.96,"label":"ele"},{"k":"sub","f":362,"v":-3.08,"label":"i"},{"k":"up","f":392,"v":-2.96,"label":"= 90°"}]
},
"vconcat": [
{
 "title": "Magnitude plot of Spheroidal HRTFs(d=0.23m,α=1.217)",
 "width": 471, "height": 371,
 "encoding": {
  "x": {"field": "f", "type": "quantitative", "title": "Frequency(Hz)", "scale": {"type": "log", "domain": [50, 5000], "nice": false}, "axis": {"values": [60,70,80,90,100,200,300,400,500,600,700,800,900,1000,2000,3000,4000], "labelExpr": "datum.value == 100 ? '10²' : datum.value == 1000 ? '10³' : ''", "titlePadding": 4}},
  "y": {"field": "v", "type": "quantitative", "title": "Magnitude(dB)", "scale": {"domain": [-1, 6], "nice": false}, "axis": {"values": [-1,0,1,2,3,4,5,6], "titlePadding": 7}}
 },
 "layer": [
  {"data": {"name": "p1"}, "mark": {"type": "line", "interpolate": "monotone", "clip": true},
   "encoding": {
    "color": {"field": "c", "type": "nominal", "legend": null, "scale": {"domain": ["s0","s1","s2","s3","s4","s5","s6","d1","d2","m"], "range": ["#555","#555","#555","#555","#555","#555","#555","#111","#111","#111"]}},
    "strokeDash": {"field": "c", "type": "nominal", "legend": null, "scale": {"domain": ["s0","s1","s2","s3","s4","s5","s6","d1","d2","m"], "range": [[1,0],[1,0],[1,0],[1,0],[1,0],[1,0],[1,0],[1.5,2],[1.5,2],[5,3]]}},
    "strokeWidth": {"field": "c", "type": "nominal", "legend": null, "scale": {"domain": ["s0","s1","s2","s3","s4","s5","s6","d1","d2","m"], "range": [1,1,1,1,1,1,1,1.5,1.5,1.6]}}
   }},
  {"data": {"name": "r1"}, "mark": {"type": "rule", "color": "black", "strokeWidth": 2.5, "strokeCap": "round"},
   "encoding": {"x2": {"field": "f2"}, "y2": {"field": "v2"}}},
  {"data": {"name": "t1"}, "transform": [{"filter": "datum.k == 'it'"}], "mark": {"type": "text", "font": "Liberation Serif", "fontStyle": "italic", "fontSize": 25, "align": "left", "baseline": "alphabetic", "color": "black"},
   "encoding": {"text": {"field": "label"}}},
  {"data": {"name": "t1"}, "transform": [{"filter": "datum.k == 'up'"}], "mark": {"type": "text", "font": "Liberation Serif", "fontSize": 24, "align": "left", "baseline": "alphabetic", "color": "black"},
   "encoding": {"text": {"field": "label"}}}
 ]
},
{
 "title": "Magnitude plot of Spheroidal HRTFs(d=0.23m,α=1.217)",
 "width": 471, "height": 369,
 "encoding": {
  "x": {"field": "f", "type": "quantitative", "title": "Frequency(Hz)", "scale": {"type": "log", "domain": [50, 5000], "nice": false}, "axis": {"values": [60,70,80,90,100,200,300,400,500,600,700,800,900,1000,2000,3000,4000], "labelExpr": "datum.value == 100 ? '10²' : datum.value == 1000 ? '10³' : ''", "titlePadding": 4}},
  "y": {"field": "v", "type": "quantitative", "title": "Magnitude(dB)", "scale": {"domain": [-1, 6], "nice": false}, "axis": {"values": [-1,0,1,2,3,4,5,6], "titlePadding": 7}}
 },
 "layer": [
  {"data": {"name": "p2"}, "mark": {"type": "line", "interpolate": "monotone", "clip": true},
   "encoding": {
    "color": {"field": "c", "type": "nominal", "legend": null, "scale": {"domain": ["s0","s1","s2","s3","s4","s5","s6","d1","m"], "range": ["#555","#555","#555","#555","#555","#555","#555","#111","#111"]}},
    "strokeDash": {"field": "c", "type": "nominal", "legend": null, "scale": {"domain": ["s0","s1","s2","s3","s4","s5","s6","d1","m"], "range": [[1,0],[1,0],[1,0],[1,0],[1,0],[1,0],[1,0],[1.5,2],[5,3]]}},
    "strokeWidth": {"field": "c", "type": "nominal", "legend": null, "scale": {"domain": ["s0","s1","s2","s3","s4","s5","s6","d1","m"], "range": [1,1,1,1,1,1,1,1.5,1.6]}}
   }},
  {"data": {"name": "r2"}, "mark": {"type": "rule", "color": "black", "strokeWidth": 2.5, "strokeCap": "round"},
   "encoding": {"x2": {"field": "f2"}, "y2": {"field": "v2"}}},
  {"data": {"name": "t2"}, "transform": [{"filter": "datum.k == 'it'"}], "mark": {"type": "text", "font": "Liberation Serif", "fontStyle": "italic", "fontSize": 25, "align": "left", "baseline": "alphabetic", "color": "black"},
   "encoding": {"text": {"field": "label"}}},
  {"data": {"name": "t2"}, "transform": [{"filter": "datum.k == 'up'"}], "mark": {"type": "text", "font": "Liberation Serif", "fontSize": 24, "align": "left", "baseline": "alphabetic", "color": "black"},
   "encoding": {"text": {"field": "label"}}}
 ]
},
{
 "title": "Magnitude plot of Spheroidal HRTFs(d=0.23m,α=1.217)",
 "width": 471, "height": 369,
 "encoding": {
  "x": {"field": "f", "type": "quantitative", "title": "Frequency(Hz)", "scale": {"type": "log", "domain": [50, 5000], "nice": false}, "axis": {"values": [60,70,80,90,100,200,300,400,500,600,700,800,900,1000,2000,3000,4000], "labelExpr": "datum.value == 100 ? '10²' : datum.value == 1000 ? '10³' : ''", "titlePadding": 4}},
  "y": {"field": "v", "type": "quantitative", "title": "Magnitude(dB)", "scale": {"domain": [-6, 1], "nice": false}, "axis": {"values": [-6,-5,-4,-3,-2,-1,0,1], "titlePadding": 7}}
 },
 "layer": [
  {"data": {"name": "p3"}, "mark": {"type": "line", "interpolate": "monotone", "clip": true},
   "encoding": {
    "color": {"field": "c", "type": "nominal", "legend": null, "scale": {"domain": ["s0","s1","s2","s3","s4","s5","s6","d1","m"], "range": ["#555","#555","#555","#555","#555","#555","#555","#111","#111"]}},
    "strokeDash": {"field": "c", "type": "nominal", "legend": null, "scale": {"domain": ["s0","s1","s2","s3","s4","s5","s6","d1","m"], "range": [[1,0],[1,0],[1,0],[1,0],[1,0],[1,0],[1,0],[1.5,2],[5,3]]}},
    "strokeWidth": {"field": "c", "type": "nominal", "legend": null, "scale": {"domain": ["s0","s1","s2","s3","s4","s5","s6","d1","m"], "range": [1,1,1,1,1,1,1,1.5,1.6]}}
   }},
  {"data": {"name": "r3"}, "mark": {"type": "rule", "color": "black", "strokeWidth": 2.5, "strokeCap": "round"},
   "encoding": {"x2": {"field": "f2"}, "y2": {"field": "v2"}}},
  {"data": {"name": "t3"}, "transform": [{"filter": "datum.k == 'it'"}], "mark": {"type": "text", "font": "Liberation Serif", "fontStyle": "italic", "fontSize": 25, "align": "left", "baseline": "alphabetic", "color": "black"},
   "encoding": {"text": {"field": "label"}}},
  {"data": {"name": "t3"}, "transform": [{"filter": "datum.k == 'sub'"}], "mark": {"type": "text", "font": "Liberation Serif", "fontStyle": "italic", "fontSize": 15, "align": "left", "baseline": "alphabetic", "color": "black"},
   "encoding": {"text": {"field": "label"}}},
  {"data": {"name": "t3"}, "transform": [{"filter": "datum.k == 'up'"}], "mark": {"type": "text", "font": "Liberation Serif", "fontSize": 24, "align": "left", "baseline": "alphabetic", "color": "black"},
   "encoding": {"text": {"field": "label"}}}
 ]
}
]
}
